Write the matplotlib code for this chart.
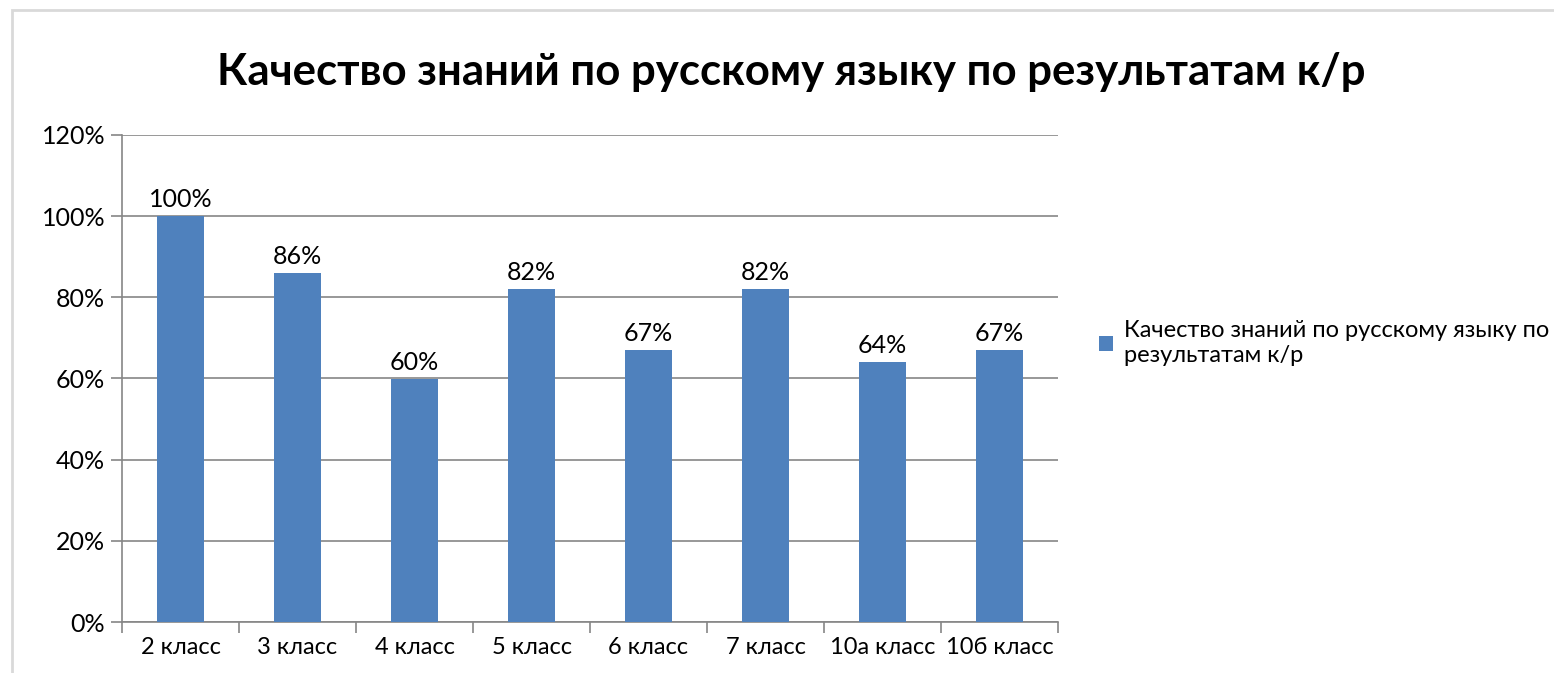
import matplotlib
matplotlib.use("Agg")
import matplotlib.pyplot as plt
from matplotlib.patches import Rectangle
from matplotlib.ticker import FuncFormatter, MultipleLocator

categories = ["2 класс", "3 класс", "4 класс", "5 класс", "6 класс", "7 класс", "10а класс", "10б класс"]
values = [1.00, 0.86, 0.60, 0.82, 0.67, 0.82, 0.64, 0.67]
series_name = "Качество знаний по русскому языку по\nрезультатам к/р"
title = "Качество знаний по русскому языку по результатам к/р"

W, H = 1554, 673
fig = plt.figure(figsize=(W / 100, H / 100), dpi=100)
plt.rcParams['font.family'] = ['Lato', 'DejaVu Sans']

fig.patches.append(Rectangle((12 / W, -0.05), 1.1, 1 - 10 / H + 0.05, transform=fig.transFigure,
                             fill=False, edgecolor="#D9D9D9", linewidth=2))

ax = fig.add_axes([122 / W, 1 - 622 / H, (1058 - 122) / W, (622 - 135) / H])
x = list(range(len(categories)))
bars = ax.bar(x, values, width=0.4, color="#4F81BD", label=series_name, zorder=3)
for xi, v in zip(x, values):
    ax.text(xi, v + 0.012, f"{round(v * 100)}%", ha="center", va="bottom", fontsize=18, color="black")

ax.set_xlim(-0.5, len(categories) - 0.5)
ax.set_ylim(0, 1.2)
ax.yaxis.set_major_locator(MultipleLocator(0.2))
ax.yaxis.set_major_formatter(FuncFormatter(lambda v, p: f"{round(v * 100)}%"))
ax.set_xticks(x)
ax.set_xticklabels(categories, fontsize=17)
ax.set_xticks([i - 0.5 for i in range(len(categories) + 1)], minor=True)
ax.tick_params(axis="x", which="major", length=0, pad=11)
ax.tick_params(axis="x", which="minor", length=8, color="#868686", width=1.2)
ax.tick_params(axis="y", length=8, color="#868686", width=1.2, labelsize=18, pad=4)
ax.grid(axis="y", color="#868686", linewidth=1.2, zorder=0)
for s in ["top", "right"]:
    ax.spines[s].set_visible(False)
for s in ["left", "bottom"]:
    ax.spines[s].set_color("#868686")
    ax.spines[s].set_linewidth(1.2)

fig.text(0.5 * (215 + 1368) / W, 1 - 72 / H, title, ha="center", va="center",
         fontsize=31.5, fontweight="bold")

leg = ax.legend(loc="center left", bbox_to_anchor=(1058 / W + 0.02, 1 - 343 / H),
                bbox_transform=fig.transFigure, frameon=False, fontsize=17,
                handlelength=0.6, handleheight=0.6, handletextpad=0.5, borderaxespad=0,
                labelspacing=0)

fig.savefig("out.png", dpi=100)
